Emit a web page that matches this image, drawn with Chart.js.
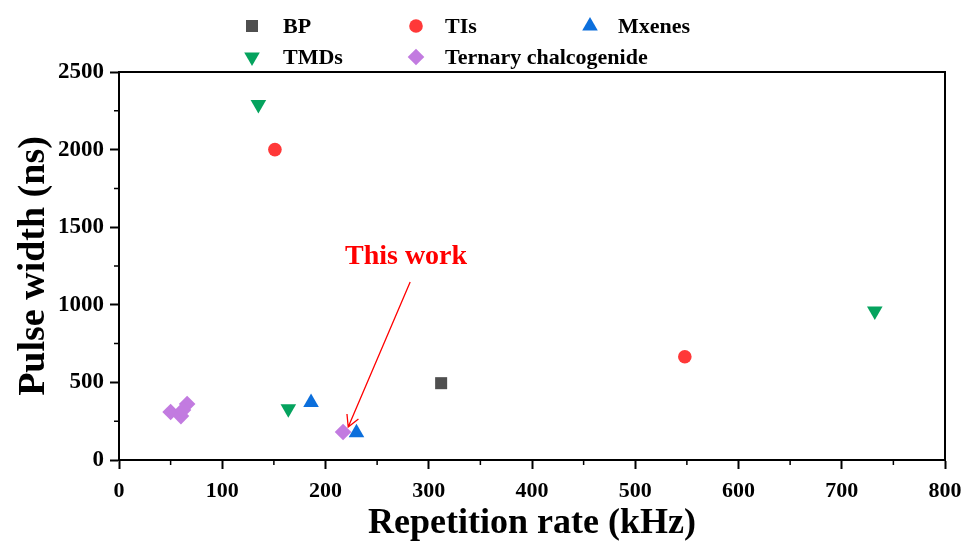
<!DOCTYPE html>
<html>
<head>
<meta charset="utf-8">
<script src="https://cdn.jsdelivr.net/npm/chart.js@4/dist/chart.umd.min.js"></script>
<style>
  html, body { margin: 0; padding: 0; background: #fff; }
  #wrap { width: 972px; height: 548px; }
</style>
</head>
<body>
<div id="wrap"><canvas id="chart" width="972" height="548"></canvas></div>
<script>
// data (x: repetition rate kHz, y: pulse width ns)
const bpPoints = [{x: 312, y: 495}];
const tisPoints = [{x: 151, y: 2000}, {x: 548, y: 665}];
const mxenesPoints = [{x: 186, y: 370}, {x: 230, y: 175}];
const tmdsPoints = [{x: 135, y: 2290}, {x: 164, y: 330}, {x: 732, y: 960}];
const ternaryPoints = [{x: 50, y: 309}, {x: 66, y: 361}, {x: 60, y: 283}, {x: 62, y: 322}, {x: 217, y: 180}];

const xTicks = [0, 100, 200, 300, 400, 500, 600, 700, 800];
const yTicks = [0, 500, 1000, 1500, 2000, 2500];
const xMinor = [50, 150, 250, 350, 450, 550, 650, 750];
const yMinor = [250, 750, 1250, 1750, 2250];

// "This work" note and arrow, in data units
const noteText = 'This work';
const notePos = {x: 278, y: 1308};
const arrowFrom = {x: 282, y: 1147};
const arrowTo = {x: 222, y: 213};

const serif = '"Liberation Serif", "Times New Roman", serif';

const series = [
    {label: 'BP', data: bpPoints, color: '#4f4f4f', style: 'rect', radius: 8.5, rotation: 0},
    {label: 'TIs', data: tisPoints, color: '#ff3838', style: 'circle', radius: 6.8, rotation: 0},
    {label: 'Mxenes', data: mxenesPoints, color: '#0c6fdc', style: 'triangle', radius: 9, rotation: 0},
    {label: 'TMDs', data: tmdsPoints, color: '#05a35e', style: 'triangle', radius: 9, rotation: 180},
    {label: 'Ternary chalcogenide', data: ternaryPoints, color: '#c27be0', style: 'rectRot', radius: 8.3, rotation: 0}
];

// legend grid: order follows the reference (3 per row)
const legendCols = [252, 416, 590];
const legendTextCols = [283, 445, 618];
const legendRows = [26, 57];

const extrasPlugin = {
    id: 'extras',
    afterDraw(chart) {
        const ctx = chart.ctx;
        const xs = chart.scales.x;
        const ys = chart.scales.y;
        const area = chart.chartArea;

        ctx.save();
        // frame
        ctx.strokeStyle = '#000';
        ctx.lineWidth = 2;
        ctx.strokeRect(area.left, area.top, area.right - area.left, area.bottom - area.top);

        // minor ticks
        ctx.lineWidth = 1.5;
        ctx.beginPath();
        xMinor.forEach(v => {
            const px = xs.getPixelForValue(v);
            ctx.moveTo(px, area.bottom);
            ctx.lineTo(px, area.bottom + 5);
        });
        yMinor.forEach(v => {
            const py = ys.getPixelForValue(v);
            ctx.moveTo(area.left, py);
            ctx.lineTo(area.left - 5, py);
        });
        ctx.stroke();

        // arrow
        const x1 = xs.getPixelForValue(arrowFrom.x), y1 = ys.getPixelForValue(arrowFrom.y);
        const x2 = xs.getPixelForValue(arrowTo.x), y2 = ys.getPixelForValue(arrowTo.y);
        ctx.strokeStyle = '#ff0000';
        ctx.lineWidth = 1.3;
        ctx.beginPath();
        ctx.moveTo(x1, y1);
        ctx.lineTo(x2, y2);
        const ang = Math.atan2(y2 - y1, x2 - x1);
        const head = 13;
        ctx.moveTo(x2 - head * Math.cos(ang - 0.5), y2 - head * Math.sin(ang - 0.5));
        ctx.lineTo(x2, y2);
        ctx.lineTo(x2 - head * Math.cos(ang + 0.5), y2 - head * Math.sin(ang + 0.5));
        ctx.stroke();

        // note
        ctx.fillStyle = '#ff0000';
        ctx.font = 'bold 28px ' + serif;
        ctx.textAlign = 'center';
        ctx.textBaseline = 'middle';
        ctx.fillText(noteText, xs.getPixelForValue(notePos.x), ys.getPixelForValue(notePos.y));

        // legend
        ctx.font = 'bold 22px ' + serif;
        ctx.textAlign = 'left';
        series.forEach((s, i) => {
            const col = i % 3;
            const row = Math.floor(i / 3);
            const y = legendRows[row];
            ctx.fillStyle = s.color;
            ctx.strokeStyle = s.color;
            Chart.helpers.drawPoint(ctx, {pointStyle: s.style, radius: s.radius, rotation: s.rotation, borderWidth: 0}, legendCols[col], y);
            ctx.fillStyle = '#000';
            ctx.fillText(s.label, legendTextCols[col], y + 1);
        });
        ctx.restore();
    }
};

new Chart(document.getElementById('chart'), {
    type: 'scatter',
    data: {
        datasets: series.map(s => ({
            label: s.label,
            data: s.data,
            backgroundColor: s.color,
            borderColor: s.color,
            borderWidth: 0,
            pointStyle: s.style,
            pointRadius: s.radius,
            pointHoverRadius: s.radius,
            rotation: s.rotation
        }))
    },
    options: {
        responsive: false,
        animation: false,
        events: [],
        layout: { padding: { left: 0, top: 72, right: 27, bottom: 0 } },
        plugins: {
            legend: { display: false },
            tooltip: { enabled: false }
        },
        scales: {
            x: {
                type: 'linear',
                min: 0,
                max: 800,
                afterBuildTicks: s => { s.ticks = xTicks.map(v => ({value: v})); },
                afterFit: s => { s.height = 88; },
                ticks: {
                    color: '#000',
                    padding: 9,
                    maxRotation: 0,
                    callback: v => String(v),
                    font: { family: serif, size: 22, weight: 'bold' }
                },
                grid: { drawOnChartArea: false, drawTicks: true, tickLength: 9, tickColor: '#000', tickWidth: 2 },
                border: { color: '#000', width: 2 },
                title: {
                    display: true,
                    text: 'Repetition rate (kHz)',
                    color: '#000',
                    padding: { top: 0, bottom: 3 },
                    font: { family: serif, size: 36, weight: 'bold' }
                }
            },
            y: {
                type: 'linear',
                min: 0,
                max: 2500,
                afterBuildTicks: s => { s.ticks = yTicks.map(v => ({value: v})); },
                afterFit: s => { s.width = 119; },
                ticks: {
                    color: '#000',
                    padding: 6,
                    callback: v => String(v),
                    font: { family: serif, size: 23, weight: 'bold' }
                },
                grid: { drawOnChartArea: false, drawTicks: true, tickLength: 9, tickColor: '#000', tickWidth: 2 },
                border: { color: '#000', width: 2 },
                title: {
                    display: true,
                    text: 'Pulse width (ns)',
                    color: '#000',
                    padding: { top: 11, bottom: 0 },
                    font: { family: serif, size: 38, weight: 'bold' }
                }
            }
        }
    },
    plugins: [extrasPlugin]
});
</script>
</body>
</html>
